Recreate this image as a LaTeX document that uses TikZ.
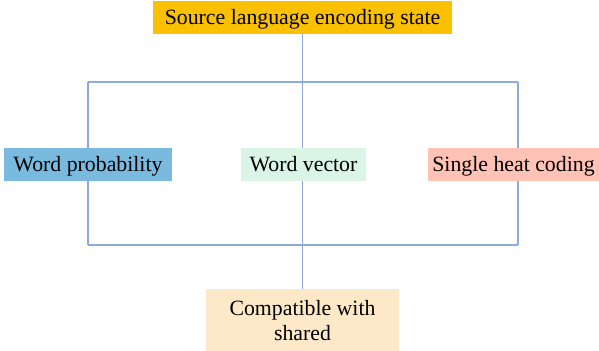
\documentclass[tikz,border=0pt]{standalone}
\usepackage{fontspec}
\setmainfont{Liberation Serif}
\usepackage{tikz}
\usetikzlibrary{arrows.meta,positioning}

\definecolor{srcfill}{RGB}{251,193,0}
\definecolor{probfill}{RGB}{122,186,223}
\definecolor{vecfill}{RGB}{218,245,229}
\definecolor{heatfill}{RGB}{255,194,180}
\definecolor{compfill}{RGB}{253,232,200}
\definecolor{linkcol}{RGB}{142,169,219}

\begin{document}
\begin{tikzpicture}[
            x=0.5pt, y=-0.5pt,
            every node/.style={font=\fontsize{10.9}{12.5}\selectfont, inner sep=0pt},
            box/.style={minimum height=16.5pt, text height=8.6pt, text depth=1.4pt},
            link/.style={draw=linkcol, line width=0.8pt}
        ]
        \useasboundingbox (0,0) rectangle (599,351);

        %================================================
        % Nodes
        %================================================
        \node[box, fill=srcfill, minimum width=149.5pt] (src) at (302.5,17.5) {Source language encoding state};

        \node[box, fill=probfill, minimum width=84pt] (prob) at (88,164.5) {Word probability};
        \node[box, fill=vecfill, minimum width=62.5pt] (vec) at (303.5,164.5) {Word vector};
        \node[box, fill=heatfill, minimum width=85.5pt] (heat) at (513.5,164.5) {Single heat coding};

        \node[fill=compfill, minimum width=96.5pt, minimum height=31pt, align=center] (comp) at (302.5,320.5) {Compatible with\\shared};

        %================================================
        % Junctions
        %================================================
        \coordinate (tl) at (88,82);
        \coordinate (tm) at (302.5,82);
        \coordinate (tr) at (518,82);
        \coordinate (bl) at (88,245);
        \coordinate (bm) at (302.5,245);
        \coordinate (br) at (518,245);

        %================================================
        % Connectors
        %================================================
        \draw[link] (src) -- (tm);
        \draw[link] (tl) -- (tr);
        \draw[link] (tl) -- (prob);
        \draw[link] (prob) -- (bl);
        \draw[link] (tm) -- (tm |- vec.north);
        \draw[link] (vec.south -| bm) -- (bm);
        \draw[link] (tr) -- (tr |- heat.north);
        \draw[link] (heat.south -| br) -- (br);
        \draw[link] (bl) -- (br);
        \draw[link] (bm) -- (comp);

        \end{tikzpicture}
\end{document}
